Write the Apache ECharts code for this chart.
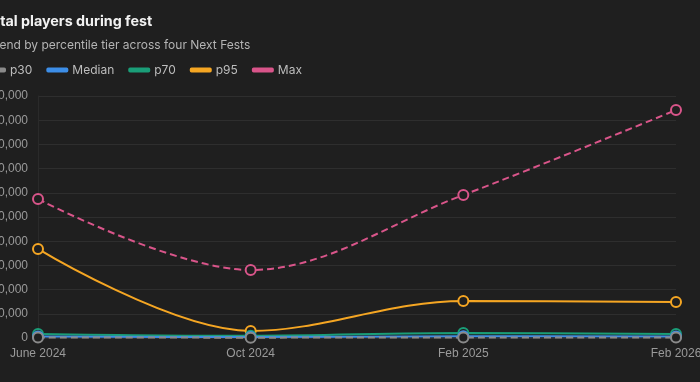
<!DOCTYPE html>
<html><head><meta charset="utf-8">
<script src="https://cdn.jsdelivr.net/npm/echarts@6/dist/echarts.min.js"></script>
<style>html,body{margin:0;padding:0;background:#1f1f1f;}#c{width:700px;height:382px;}</style>
</head><body><div id="c"></div>
<script>
const categories = ['June 2024', 'Oct 2024', 'Feb 2025', 'Feb 2026'];
const p30 = [200, 150, 250, 200];
const median = [600, 400, 700, 600];
const p70 = [1700, 900, 2100, 1700];
const p95 = [36800, 2900, 15300, 14900];
const maxVals = [57400, 28100, 59100, 94200];
const seriesNames = ['p30', 'Median', 'p70', 'p95', 'Max'];

const colors = ['#8a8a8a', '#3d8ee8', '#1a9e78', '#f5a623', '#d9558a'];
const bg = '#1f1f1f';
function mk(name, data, color, dashed, z) {
  return {
    name, type: 'line', data, smooth: 0.35, z,
    symbol: 'circle', symbolSize: 10,
    itemStyle: { color: bg, borderColor: color, borderWidth: 2 },
    lineStyle: { color, width: 2, type: dashed ? [7, 4] : 'solid' }
  };
}
const chart = echarts.init(document.getElementById('c'));
chart.setOption({
  backgroundColor: bg,
  animation: false,
  title: [
    { text: 'Total players during fest', left: -22, top: 10,
      textStyle: { color: '#f2f2f2', fontFamily: 'Inter', fontWeight: 'bold', fontSize: 14.3 } },
    { text: 'Trend by percentile tier across four Next Fests', left: -17, top: 34,
      textStyle: { color: '#b4b4b4', fontFamily: 'Inter', fontWeight: 'normal', fontSize: 12 } }
  ],
  legend: {
    left: -21, top: 59, itemWidth: 20, itemHeight: 3, itemGap: 14,
    icon: 'roundRect',
    textStyle: { color: '#bdbdbd', fontFamily: 'Inter', fontSize: 12 },
    data: seriesNames.map((n, i) => ({ name: n, itemStyle: { color: colors[i] } }))
  },
  grid: { left: 38, right: 24, top: 96, bottom: 44, containLabel: false, outerBoundsMode: 'none' },
  xAxis: {
    type: 'category', data: categories, boundaryGap: false,
    axisLine: { show: false }, axisTick: { show: false },
    axisLabel: { color: '#9a9a9a', fontSize: 12, margin: 10 },
    splitLine: { show: false }
  },
  yAxis: {
    type: 'value', min: 0, max: 100000, interval: 10000,
    axisLine: { show: true, lineStyle: { color: '#2a2a2a' } },
    axisTick: { show: false },
    axisLabel: { color: '#9a9a9a', fontSize: 12, margin: 10,
      formatter: v => v.toLocaleString('en-US') },
    splitLine: { lineStyle: { color: '#2e2e2e' } }
  },
  series: [
    mk('p30', p30, colors[0], true, 7),
    mk('Median', median, colors[1], false, 6),
    mk('p70', p70, colors[2], false, 5),
    mk('p95', p95, colors[3], false, 4),
    mk('Max', maxVals, colors[4], true, 3)
  ]
});
</script></body></html>
